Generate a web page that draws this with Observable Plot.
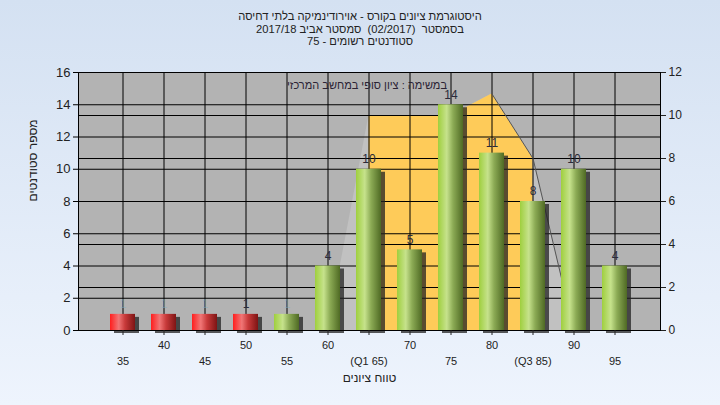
<!DOCTYPE html>
<html><head><meta charset="utf-8">
<script src="https://cdn.jsdelivr.net/npm/d3@7"></script>
<script src="https://cdn.jsdelivr.net/npm/@observablehq/plot@0.6"></script>
<style>
html,body{margin:0;padding:0;}
body{width:720px;height:405px;overflow:hidden;background:linear-gradient(to bottom,#d4e1f2,#eef4fd);font-family:"Liberation Sans",Arial,sans-serif;position:relative;}
#title{position:absolute;left:0;top:10px;width:720px;text-align:center;direction:rtl;font-size:11.2px;line-height:12.5px;color:#222;white-space:pre;}
#legend{position:absolute;right:273px;top:79px;direction:rtl;font-size:11px;color:#2a2233;white-space:pre;}
#chart{position:absolute;left:0;top:0;}
</style></head>
<body>
<div id="title"></div>
<div id="chart"></div>
<div id="legend"></div>
<script>
const titleLines = ["היסטוגרמת ציונים בקורס - אוירודינמיקה בלתי דחיסה", "בסמסטר  (02/2017)  סמסטר אביב 2017/18", "סטודנטים רשומים - 75"];
const legendText = "במשימה : ציון סופי במחשב המרכזי";
const xTitle = "טווח ציונים";
const yTitle = "מספר סטודנטים";
const categories = ["35","40","45","50","55","60","65","70","75","80","85","90","95"];
const counts = [1,1,1,1,1,4,10,5,14,11,8,10,4];
const tickLabels = ["35","40","45","50","55","60","(Q1 65)","70","75","80","(Q3 85)","90","95"];
const areaCats = ["60","65","70","75","80","85","90"];
const areaValues = [0,10,10,10,11,8,0];
const quartileCats = ["65","70","75","80","85"];
const leftTicks = [0,2,4,6,8,10,12,14,16];
const rightTicks = [0,2,4,6,8,10,12];

document.getElementById("title").innerHTML = titleLines.map(t => `<div>${t}</div>`).join("");
document.getElementById("legend").textContent = legendText;

const K = 16/12;
const bars = categories.map((c,i) => ({cat:c, count:counts[i], fail: +c < 55}));
const area = areaCats.map((c,i) => ({cat:c, v:areaValues[i]*K}));
const areaQ = area.filter(d => quartileCats.includes(d.cat));
const areaLine = area.filter(d => +d.cat >= 80);
const labelOf = c => tickLabels[categories.indexOf(c)];
const lowerRow = categories.filter((c,i) => i % 2 === 0);
const upperRow = categories.filter((c,i) => i % 2 === 1);
const faintLabel = d => d.count === 1 && d.cat !== "50";

const chart = Plot.plot({
  width:720, height:405,
  marginLeft:78, marginRight:60, marginTop:72, marginBottom:75,
  style:{background:"transparent", fontFamily:"Liberation Sans, Arial, sans-serif", fontSize:"12px", color:"#222"},
  x:{type:"band", domain:categories, paddingInner:0.39, paddingOuter:0.695, axis:null},
  y:{domain:[0,16], axis:null},
  marks:[
    Plot.frame({fill:"#b3b3b3"}),
    Plot.areaY(area, {x:"cat", y:"v", fill:"#c1c1c1", curve:"linear"}),
    Plot.areaY(areaQ, {x:"cat", y:"v", fill:"#fecb59", curve:"linear"}),
    Plot.ruleY(leftTicks, {stroke:"#000", strokeWidth:1}),
    Plot.ruleY(rightTicks.map(v => v*K), {stroke:"#000", strokeWidth:1}),
    Plot.ruleX(categories, {stroke:"#000", strokeWidth:1}),
    Plot.lineY(areaLine, {x:"cat", y:"v", stroke:"#555", strokeWidth:1}),
    Plot.barY(bars, {x:"cat", y:"count", fill:"#222", fillOpacity:0.75, dx:4, dy:3, ariaLabel:"shadow"}),
    Plot.barY(bars, {x:"cat", y:"count", fill: d => d.fail ? "url(#redGrad)" : "url(#greenGrad)"}),
    Plot.text(bars.filter(d => !faintLabel(d)), {x:"cat", y:"count", text: d => String(d.count), dy:-10, fontSize:12, fill:"#2b2b3a"}),
    Plot.text(bars.filter(faintLabel), {x:"cat", y:"count", text: d => String(d.count), dy:-10, fontSize:12, fill:"#7fb0c8", fillOpacity:0.5}),
    Plot.frame({stroke:"#000"}),
    Plot.axisY(leftTicks, {anchor:"left", tickSize:5, tickPadding:3, fontSize:13, label:null, stroke:"#000"}),
    Plot.axisY(rightTicks.map(v => v*K), {anchor:"right", tickSize:5, tickPadding:3, fontSize:12, label:null, tickFormat: d => Math.round(d/K)}),
    Plot.axisX(upperRow, {anchor:"bottom", tickSize:5, tickPadding:6, fontSize:11, label:null, tickFormat: labelOf}),
    Plot.axisX(lowerRow, {anchor:"bottom", tickSize:5, tickPadding:22, fontSize:11, label:null, tickFormat: labelOf}),
    Plot.text([xTitle], {frameAnchor:"bottom", dy:51, fontSize:12, fill:"#222"}),
    Plot.text([yTitle], {frameAnchor:"left", dx:-45, rotate:-90, fontSize:12, fill:"#222"})
  ]
});
document.getElementById("chart").appendChild(chart);

const svg = d3.select(chart);
const defs = svg.insert("defs", ":first-child");
const g = defs.append("linearGradient").attr("id","greenGrad").attr("x1","0").attr("x2","1").attr("y1","0").attr("y2","0");
[["0%","#9fcf3e"],["35%","#c6e28c"],["60%","#8cab55"],["100%","#4f6a24"]].forEach(([o,c]) => g.append("stop").attr("offset",o).attr("stop-color",c));
const r = defs.append("linearGradient").attr("id","redGrad").attr("x1","0").attr("x2","1").attr("y1","0").attr("y2","0");
[["0%","#ff1e1e"],["35%","#f07676"],["60%","#c83a3a"],["100%","#7e1414"]].forEach(([o,c]) => r.append("stop").attr("offset",o).attr("stop-color",c));
defs.append("filter").attr("id","blur").attr("x","-50%").attr("y","-50%").attr("width","200%").attr("height","200%")
  .append("feGaussianBlur").attr("stdDeviation","1.8");
svg.selectAll("g[aria-label=shadow]").attr("filter","url(#blur)");
</script>
</body></html>
